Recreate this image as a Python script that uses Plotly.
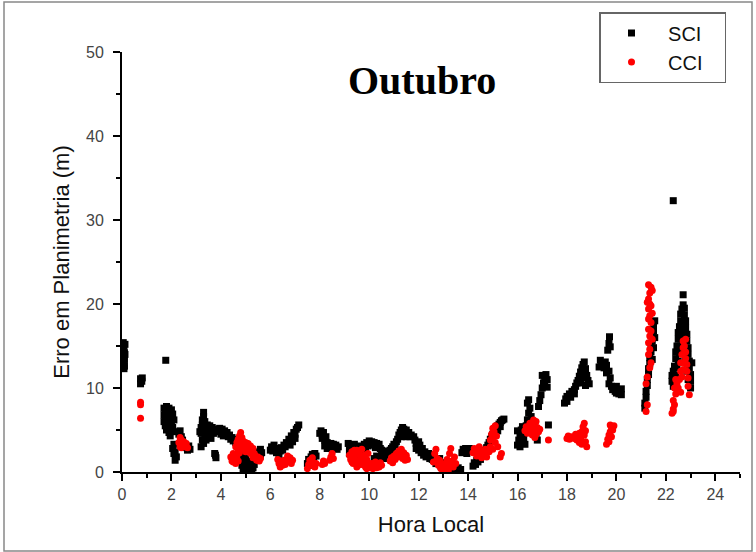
import plotly.graph_objects as go

# SCI series (hora local, erro em planimetria em m)
sci_hora = [
    0.05, 0.08, 0.05, 0.1, 0.05, 0.1, 0.05, 0.1, 0.08, 0.12, 0.12,
    0.75, 0.8, 0.75, 0.82,
    1.77,
    1.7, 1.75, 1.8, 1.85, 1.9, 1.95, 2.0, 1.7, 1.75, 1.8, 1.85, 1.9, 1.95, 2.0, 2.05, 1.7, 1.8, 1.85, 1.9, 1.95, 2.0, 2.05, 1.8, 1.9, 1.95, 2.0, 1.75, 2.1,
    2.05, 2.1, 2.15, 2.2, 2.15, 2.1,
    2.2, 2.3, 2.35, 2.4, 2.45,
    2.55, 2.6, 2.65, 2.7, 2.75,
    3.15, 3.2, 3.25, 3.3, 3.3, 3.25, 3.2, 3.25, 3.2, 3.3, 3.35, 3.4, 3.45, 3.5, 3.5, 3.55, 3.6, 3.65, 3.7, 3.75, 3.4, 3.45, 3.6, 3.35, 3.8,
    3.75, 3.8, 3.78,
    3.95, 4.0, 4.05, 4.1, 4.15, 4.2, 4.25, 4.3, 4.35, 4.4, 4.45, 4.5, 4.55, 4.6, 4.65, 4.7, 4.0, 4.1,
    4.75, 4.8, 4.85, 4.9, 4.95, 5.0, 4.9, 5.05, 5.1, 5.15, 5.2, 5.25, 5.3, 5.0, 4.85, 5.35,
    5.4, 5.45, 5.5, 5.55, 5.6, 5.6, 5.65,
    6.0, 6.05, 6.1, 6.15, 6.2, 6.25, 6.3, 6.35, 6.4, 6.45, 6.5, 6.55, 6.6, 6.65, 6.7, 6.75, 6.8, 6.85, 6.9, 6.95, 7.0, 7.05, 7.1, 7.15, 7.0, 6.9, 6.8,
    7.5, 7.55, 7.6, 7.65, 7.7, 7.75, 7.8, 7.85, 7.6,
    8.0, 8.05, 8.1, 8.15, 8.1, 8.2, 8.25, 8.3, 8.35, 8.3, 8.4, 8.45, 8.5, 8.55, 8.6, 8.65, 8.7, 8.75, 8.2,
    9.15, 9.2, 9.25, 9.3, 9.35, 9.4, 9.45, 9.5, 9.55, 9.6, 9.7, 9.75, 9.8, 9.85, 9.2, 9.4,
    9.9, 9.95, 10.0, 10.05, 10.1, 10.15, 10.2, 10.25, 10.3, 10.35, 10.4, 10.45, 10.5, 10.55, 10.6,
    10.2, 10.3, 10.4, 10.5, 10.6, 10.65,
    10.7, 10.75, 10.8, 10.85, 10.9, 10.95, 11.0, 11.05, 11.1, 11.15, 11.2, 11.25, 11.3, 11.35, 11.4, 11.45, 11.5, 11.55, 11.6, 11.65, 11.7, 11.3, 11.5,
    11.8, 11.85, 11.9, 11.95, 12.0, 12.05, 12.1, 12.15, 12.2, 12.25, 12.3, 12.4, 12.45, 12.5, 12.55, 11.9, 12.0,
    12.6, 12.7, 12.8, 12.9, 13.0, 13.1, 13.2, 13.3, 13.4, 13.5, 13.6, 13.7, 13.0, 12.85,
    13.75, 13.8, 13.85, 13.9, 13.95, 14.0, 14.05,
    14.2, 14.25, 14.3, 14.35, 14.4, 14.45, 14.5, 14.55,
    14.6, 14.65, 14.7, 14.75, 14.8, 14.85, 14.9, 14.95, 15.0, 15.05, 15.1, 15.15, 15.2, 15.25, 15.3, 15.35, 15.4, 15.45, 15.3, 15.2,
    16.0, 16.05, 16.1, 16.15, 16.2, 16.25, 16.0, 16.1, 16.2, 16.3, 16.25,
    16.35, 16.4, 16.45, 16.5, 16.4, 16.45, 16.55, 16.6, 16.65, 16.7, 16.75, 16.8,
    16.85, 16.9, 16.95, 17.0, 17.05, 17.1, 17.15, 17.0, 17.1, 17.2, 17.2,
    17.25,
    17.9, 17.95, 18.0, 18.1, 18.15, 18.2, 18.3, 18.35, 18.4, 18.45, 18.5, 18.55, 18.6, 18.65, 18.7, 18.75, 18.8, 18.85, 18.9, 18.75, 18.65, 18.55, 18.3, 18.0,
    19.3, 19.35, 19.4, 19.5, 19.55, 19.6, 19.65, 19.7, 19.72, 19.75, 19.7, 19.75, 19.7, 19.8, 19.85, 19.9, 19.95, 20.0, 20.05, 20.1, 20.15, 20.2, 19.6, 20.0, 20.2,
    21.15, 21.15, 21.2, 21.2, 21.25, 21.25, 21.3, 21.3, 21.35, 21.35, 21.4, 21.4, 21.45, 21.45, 21.5, 21.5, 21.55, 21.5, 21.45, 21.55,
    22.25, 22.3, 22.25, 22.3, 22.35, 22.4, 22.4, 22.45, 22.5, 22.5, 22.55, 22.6, 22.6, 22.65, 22.7, 22.75, 22.75, 22.8, 22.8, 22.85, 22.85, 22.9, 22.9, 22.95, 22.95, 23.0, 23.0, 23.0, 22.7, 22.65, 22.75, 22.6, 22.55, 22.5, 22.45, 22.7, 22.8, 22.85, 22.9, 23.05, 22.4,
    22.3,
    22.7,
]
sci_erro = [
    15.4, 15.0, 14.5, 14.2, 13.8, 13.4, 13.0, 12.6, 12.3, 15.2, 14.0,
    11.1, 10.8, 10.5, 11.2,
    13.3,
    7.6, 7.3, 7.8, 7.5, 7.6, 7.3, 7.4, 6.8, 6.4, 6.9, 6.5, 6.8, 6.3, 6.6, 6.9, 6.0, 5.8, 5.4, 6.0, 5.6, 5.9, 5.3, 5.0, 4.7, 4.3, 5.0, 5.5, 6.2,
    2.8, 3.3, 2.4, 1.8, 1.4, 2.2,
    4.8, 4.5, 4.9, 4.2, 3.8,
    3.3, 2.9, 2.6, 3.1, 2.7,
    4.8, 5.3, 6.2, 7.1, 6.6, 5.6, 4.6, 3.8, 3.0, 3.4, 4.2, 5.0, 5.6, 5.2, 4.5, 5.5, 4.8, 5.3, 4.6, 5.1, 3.8, 4.5, 4.0, 6.0, 4.8,
    2.2, 1.7, 2.0,
    5.2, 4.9, 5.1, 4.6, 4.9, 4.4, 4.7, 4.2, 4.4, 3.9, 4.1, 3.7, 3.9, 3.5, 3.7, 3.3, 4.5, 4.3,
    2.4, 1.9, 1.4, 2.0, 1.2, 0.7, 0.3, 0.9, 0.4, 1.3, 0.7, 0.2, 0.5, 1.6, 0.8, 0.9,
    1.6, 2.1, 1.7, 2.4, 2.7, 1.9, 2.3,
    2.6, 3.0, 2.5, 3.2, 2.8, 2.3, 2.7, 2.1, 2.5, 2.9, 2.6, 3.2, 3.0, 3.5, 3.3, 3.9, 3.7, 4.3, 4.1, 4.7, 4.5, 5.1, 5.3, 5.6, 4.0, 3.6, 3.2,
    1.0, 1.5, 1.2, 1.8, 2.1, 1.6, 2.2, 1.9, 0.8,
    4.6, 4.9, 4.4, 4.7, 4.0, 3.8, 4.2, 3.5, 3.2, 2.8, 3.0, 3.4, 3.1, 3.3, 2.8, 3.2, 2.7, 3.0, 3.1,
    3.4, 3.0, 2.6, 3.2, 2.8, 3.3, 2.9, 2.5, 3.1, 2.7, 3.0, 2.6, 3.3, 2.9, 2.2, 2.0,
    3.5, 3.1, 3.7, 3.3, 3.6, 3.2, 3.5, 2.9, 3.4, 3.0, 3.3, 2.8, 2.6, 2.3, 2.5,
    1.6, 1.9, 1.4, 1.8, 1.6, 2.0,
    2.1, 2.4, 2.2, 2.6, 2.8, 3.0, 3.3, 3.2, 3.6, 3.9, 4.4, 4.7, 5.0, 5.3, 5.1, 4.8, 5.0, 4.5, 4.7, 4.2, 4.4, 4.2, 4.2,
    4.2, 3.8, 3.4, 3.0, 2.6, 3.2, 2.3, 2.8, 2.0, 2.4, 1.8, 2.2, 1.6, 2.0, 1.5, 2.8, 3.6,
    1.4, 1.0, 1.3, 0.7, 1.1, 0.5, 0.9, 0.3, 0.7, 0.2, 0.5, 0.3, 0.3, 1.6,
    2.3, 2.7, 2.4, 2.8, 2.2, 2.5, 2.8,
    0.7, 1.1, 0.9, 1.4, 1.2, 1.7, 1.5, 2.0,
    2.2, 2.6, 2.4, 2.9, 3.2, 3.5, 3.9, 4.2, 4.5, 4.8, 5.0, 5.3, 5.5, 5.7, 5.9, 6.1, 6.2, 6.3, 5.4, 4.9,
    3.2, 3.8, 4.4, 5.0, 5.4, 4.7, 4.9, 3.0, 3.6, 3.3, 4.1,
    5.5, 6.2, 7.0, 7.6, 8.2, 8.6, 6.6, 5.9, 5.3, 4.7, 4.2, 3.8,
    7.8, 8.5, 9.2, 10.0, 10.6, 11.2, 11.6, 11.5, 10.4, 10.1, 11.0,
    5.6,
    8.2, 8.7, 9.0, 9.3, 8.9, 9.6, 9.8, 10.2, 10.6, 10.9, 11.4, 11.9, 12.4, 12.8, 13.1, 12.3, 11.5, 10.9, 10.5, 10.3, 11.2, 10.6, 9.3, 8.4,
    12.5, 13.3, 12.9, 12.4, 13.1, 12.7, 14.5, 15.3, 16.1, 14.9, 12.0, 11.2, 10.5, 10.2, 9.8, 10.0, 9.6, 9.4, 9.7, 9.3, 9.6, 9.9, 11.8, 10.2, 9.2,
    7.6, 8.2, 8.9, 9.6, 10.3, 11.0, 11.6, 12.3, 12.9, 13.6, 14.3, 15.0, 15.6, 16.3, 16.8, 17.5, 18.0, 14.8, 13.4, 16.0,
    11.5, 12.0, 10.8, 10.2, 12.6, 13.5, 14.3, 15.0, 15.8, 16.6, 17.3, 18.0, 18.8, 19.4, 19.9, 19.5, 18.7, 18.0, 17.2, 16.4, 15.6, 14.8, 14.0, 13.2, 12.4, 11.6, 10.8, 10.0, 17.0, 16.0, 16.5, 15.0, 14.2, 13.2, 12.4, 14.5, 13.5, 12.0, 11.0, 13.0, 11.5,
    32.3,
    21.1,
]

# CCI series
cci_hora = [
    0.75, 0.75, 0.75,
    2.3, 2.35, 2.4, 2.45, 2.5, 2.55, 2.6, 2.65, 2.4, 2.35,
    4.4, 4.45, 4.5, 4.55, 4.6, 4.65, 4.7, 4.75, 4.5,
    4.6, 4.65, 4.7, 4.75, 4.8, 4.85, 4.8, 4.9, 4.95, 4.7, 4.85, 5.0, 5.05,
    5.1, 5.15, 5.2, 5.25, 5.3, 5.35, 5.3, 5.4, 5.45, 5.5, 5.55, 5.6, 5.2, 5.0,
    6.3, 6.35, 6.4, 6.45, 6.5, 6.55, 6.6, 6.65, 6.7, 6.75, 6.8, 6.85, 6.9,
    7.5, 7.55, 7.6, 7.65, 7.7, 7.75, 7.8, 7.85,
    8.1, 8.15, 8.2, 8.4, 8.45, 8.5, 8.55,
    9.2, 9.25, 9.3, 9.35, 9.4, 9.45, 9.5, 9.55, 9.6, 9.65, 9.7, 9.75, 9.8, 9.85, 9.9, 9.95, 10.0, 9.3, 9.5, 9.6, 9.7, 9.4, 9.9,
    10.05, 10.1, 10.15, 10.2, 10.25, 10.3, 10.35, 10.4, 10.45, 10.5,
    10.85, 10.9, 10.95, 11.0, 11.05, 11.1, 11.15, 11.2, 11.25, 11.3, 11.35, 11.4, 11.45, 11.5, 11.55,
    12.6, 12.65, 12.7, 12.75, 12.8, 12.85, 12.9, 12.95, 13.0, 13.05, 13.1, 13.15, 13.2, 13.25, 13.3, 13.35, 13.4, 13.45, 13.5, 13.2,
    14.2, 14.25, 14.3, 14.35, 14.4, 14.45, 14.5, 14.55, 14.6, 14.65, 14.7, 14.75,
    14.85, 14.9, 14.9, 14.95, 15.0, 15.0, 15.05, 15.1, 15.1, 15.15, 15.2, 15.0,
    15.3, 15.35,
    16.3, 16.35, 16.4, 16.45, 16.5, 16.55, 16.6, 16.65, 16.7, 16.75, 16.8, 16.85, 16.7, 16.9, 16.6, 16.75,
    17.25,
    18.0, 18.05, 18.1, 18.2, 18.3, 18.35, 18.4, 18.45, 18.5, 18.55, 18.6, 18.65, 18.7, 18.7, 18.75, 18.8, 18.75, 18.6, 18.5,
    19.6, 19.65, 19.7, 19.7, 19.75, 19.8, 19.85, 19.8, 19.9, 19.75,
    21.2, 21.25, 21.2, 21.25, 21.3, 21.35, 21.3, 21.35, 21.3, 21.4, 21.35, 21.3, 21.35, 21.3, 21.35, 21.4, 21.3, 21.45, 21.45, 21.4, 21.45, 21.4, 21.3, 21.4, 21.35, 21.25,
    22.25, 22.3, 22.35, 22.3, 22.4, 22.35, 22.45, 22.4, 22.3,
    22.5, 22.55, 22.6, 22.6, 22.65, 22.7, 22.7, 22.75, 22.8, 22.8, 22.85, 22.85, 22.9, 22.9, 22.95, 22.75, 22.7, 22.65, 22.8, 22.6,
]
cci_erro = [
    8.3, 8.0, 6.4,
    3.5, 4.1, 3.8, 3.2, 3.6, 3.0, 3.4, 2.9, 2.9, 3.0,
    1.8, 1.3, 2.2, 1.6, 1.0, 1.9, 1.3, 2.3, 1.2,
    3.0, 3.5, 3.9, 4.3, 4.7, 4.1, 3.4, 3.7, 3.2, 2.7, 2.8, 3.5, 3.0,
    3.4, 2.9, 3.1, 2.5, 2.8, 2.2, 1.7, 1.9, 1.4, 1.8, 1.3, 1.6, 2.2, 2.4,
    1.5, 1.0, 0.6, 1.2, 0.8, 1.4, 0.9, 1.5, 1.9, 1.3, 1.7, 1.0, 1.4,
    0.4, 0.9, 1.4, 0.8, 1.7, 1.1, 0.6, 1.0,
    0.9, 1.3, 1.0, 1.4, 1.8, 2.2, 1.6,
    2.0, 1.5, 2.4, 1.0, 1.9, 1.4, 2.6, 0.8, 2.1, 1.6, 2.7, 1.2, 2.0, 0.6, 1.5, 2.2, 1.0, 1.2, 0.6, 1.3, 0.9, 2.6, 0.4,
    0.5, 1.0, 0.4, 0.8, 1.2, 0.5, 0.9, 0.6, 1.1, 0.8,
    1.3, 1.7, 1.1, 1.9, 1.5, 2.2, 1.8, 2.5, 2.0, 2.7, 1.6, 2.3, 1.4, 2.0, 1.5,
    1.2, 2.2, 2.7, 1.6, 0.8, 1.4, 0.4, 1.0, 0.3, 0.9, 0.5, 1.5, 0.8, 2.2, 2.8, 1.3, 0.6, 1.8, 1.0, 0.2,
    2.3, 2.8, 2.4, 1.9, 2.6, 3.0, 2.2, 1.7, 2.5, 2.0, 2.7, 1.8,
    2.4, 3.0, 3.8, 4.5, 5.2, 4.1, 4.8, 5.5, 3.5, 4.3, 3.0, 2.7,
    1.8, 2.2,
    4.9, 5.4, 4.6, 5.2, 5.8, 4.9, 5.5, 6.2, 5.0, 4.5, 5.3, 4.8, 4.1, 5.1, 4.4, 6.0,
    3.8,
    4.0, 4.3, 3.9, 4.2, 4.0, 4.5, 3.8, 4.3, 3.5, 4.0, 4.8, 5.4, 5.8, 4.4, 3.6, 3.0, 4.9, 3.3, 4.6,
    3.3, 3.9, 4.4, 3.6, 4.8, 5.3, 5.0, 4.2, 5.5, 5.6,
    7.2, 8.0, 10.5, 11.3, 14.0, 14.6, 15.4, 16.2, 17.0, 17.8, 18.6, 19.4, 20.0, 20.6, 21.3, 22.0, 22.3, 21.6, 18.9, 16.8, 15.8, 19.8, 18.2, 13.0, 12.4, 20.2,
    7.0, 7.5, 8.0, 8.5, 9.3, 10.0, 10.5, 11.0, 7.2,
    10.0, 11.0, 12.0, 13.0, 14.0, 14.8, 15.6, 15.0, 14.3, 13.5, 12.8, 12.0, 11.2, 10.2, 9.2, 13.0, 12.2, 11.3, 15.8, 9.5,
]

x_ticks = [0, 2, 4, 6, 8, 10, 12, 14, 16, 18, 20, 22, 24]
y_ticks = [0, 10, 20, 30, 40, 50]

W, H = 756, 552
ML, MR, MT, MB = 122, 16, 52, 80
PW, PH = W - ML - MR, H - MT - MB


def px_x(p):
    return (p - ML) / PW


def px_y(p):
    return (H - MB - p) / PH


NB = "\u00a0"

fig = go.Figure()
fig.add_trace(go.Scatter(
    x=sci_hora, y=sci_erro, mode="markers", name=NB + "SCI" + NB * 3,
    marker=dict(symbol="square", size=7, color="black", line=dict(width=0)),
))
fig.add_trace(go.Scatter(
    x=cci_hora, y=cci_erro, mode="markers", name=NB + "CCI" + NB * 3,
    marker=dict(symbol="circle", size=7, color="#ff0000", line=dict(width=0)),
))

tickfont = dict(family="Liberation Sans, Arial, sans-serif", size=16, color="#444444")
titlefont = dict(family="Liberation Sans, Arial, sans-serif", size=22, color="#111111")

fig.update_layout(
    width=W, height=H,
    margin=dict(l=ML, r=MR, t=MT, b=MB, autoexpand=False),
    paper_bgcolor="white", plot_bgcolor="white",
    showlegend=True,
    legend=dict(
        x=px_x(599), y=px_y(12), xanchor="left", yanchor="top",
        bordercolor="#666666", borderwidth=1.5, bgcolor="white",
        font=dict(family="Liberation Sans, Arial, sans-serif", size=20, color="#111111"),
        itemwidth=52, itemsizing="trace",
    ),
    annotations=[dict(
        text="<b>Outubro</b>", x=px_x(422), y=px_y(81), xref="paper", yref="paper",
        xanchor="center", yanchor="middle",
        showarrow=False,
        font=dict(family="Liberation Serif, Times New Roman, serif", size=40, color="black"),
    )],
    shapes=[dict(
        type="rect", xref="paper", yref="paper",
        x0=px_x(4), x1=px_x(752), y0=px_y(551), y1=px_y(2),
        line=dict(color="#888888", width=1.5),
    )],
)

fig.update_xaxes(
    range=[0, 25], tickvals=x_ticks, ticktext=[str(v) for v in x_ticks],
    showgrid=False, zeroline=False, automargin=False,
    showline=True, linecolor="black", linewidth=2,
    ticks="outside", ticklen=7, tickwidth=2, tickcolor="black",
    minor=dict(dtick=1, tick0=0, ticks="outside", ticklen=4, tickwidth=2, tickcolor="black"),
    tickfont=tickfont,
    title=dict(text="Hora Local", font=titlefont, standoff=14),
)
fig.update_yaxes(
    range=[0, 50], tickvals=y_ticks, ticktext=[str(v) for v in y_ticks],
    showgrid=False, zeroline=False, automargin=False,
    showline=True, linecolor="black", linewidth=2,
    ticks="outside", ticklen=7, tickwidth=2, tickcolor="black",
    minor=dict(dtick=5, tick0=0, ticks="outside", ticklen=4, tickwidth=2, tickcolor="black"),
    tickfont=tickfont, ticklabelstandoff=6,
    title=dict(text="Erro em Planimetria (m)", font=titlefont, standoff=10),
)

fig.write_html(
    "out.html",
    config={"displayModeBar": False},
    post_script="document.body.style.margin='0';document.body.style.padding='0';",
)
